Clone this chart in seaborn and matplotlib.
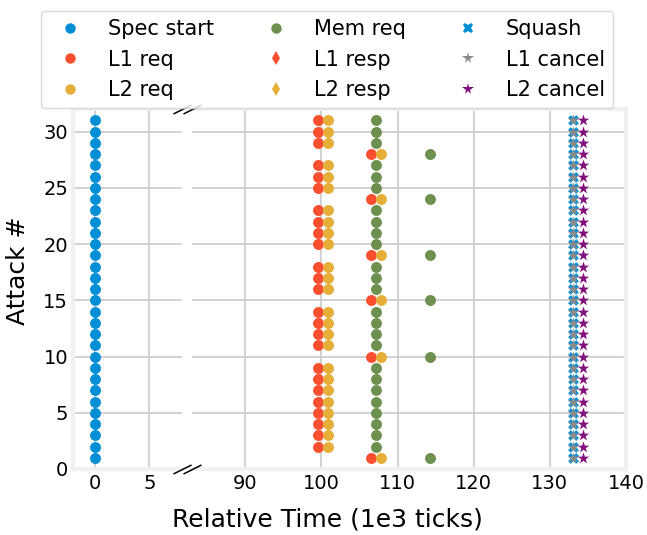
import matplotlib
matplotlib.use("Agg")
import matplotlib.pyplot as plt
from matplotlib.lines import Line2D
import seaborn as sns
import pandas as pd

# ---- data ----
attack = list(range(1, 32))
spec_start = [0.0] * 31
l1_req = [106.5, 99.6, 99.6, 99.6, 99.6, 99.6, 99.6, 99.6, 99.6, 106.5,
          99.6, 99.6, 99.6, 99.6, 106.5, 99.6, 99.6, 99.6, 106.5, 99.6,
          99.6, 99.6, 99.6, 106.5, 99.6, 99.6, 99.6, 106.5, 99.6, 99.6, 99.6]
l2_req = [107.8, 100.9, 100.9, 100.9, 100.9, 100.9, 100.9, 100.9, 100.9, 107.8,
          100.9, 100.9, 100.9, 100.9, 107.8, 100.9, 100.9, 100.9, 107.8, 100.9,
          100.9, 100.9, 100.9, 107.8, 100.9, 100.9, 100.9, 107.8, 100.9, 100.9, 100.9]
mem_req = [114.2, 107.2, 107.2, 107.2, 107.2, 107.2, 107.2, 107.2, 107.2, 114.2,
           107.2, 107.2, 107.2, 107.2, 114.2, 107.2, 107.2, 107.2, 114.2, 107.2,
           107.2, 107.2, 107.2, 114.2, 107.2, 107.2, 107.2, 114.2, 107.2, 107.2, 107.2]
l1_resp = []
l2_resp = []
squash = [133.0] * 31
l1_cancel = [133.0] * 31
l2_cancel = [134.4] * 31

series = [
    ("Spec start", spec_start, "#008fd5", "o", 62),
    ("L1 req", l1_req, "#fc4f30", "o", 62),
    ("L2 req", l2_req, "#e5ae38", "o", 62),
    ("Mem req", mem_req, "#6d904f", "o", 62),
    ("L1 resp", l1_resp, "#fc4f30", "d", 62),
    ("L2 resp", l2_resp, "#e5ae38", "d", 62),
    ("Squash", squash, "#008fd5", "X", 60),
    ("L1 cancel", l1_cancel, "#8b8b8b", "*", 75),
    ("L2 cancel", l2_cancel, "#810f7c", "*", 75),
]

plt.rcParams.update({
    "font.family": ["DejaVu Sans"],
    "font.size": 14,
    "axes.facecolor": "white",
    "figure.facecolor": "white",
    "axes.edgecolor": "#f0f0f0",
    "axes.linewidth": 3,
    "axes.grid": True,
    "grid.color": "#cbcbcb",
    "grid.linewidth": 1.2,
    "xtick.major.size": 0,
    "ytick.major.size": 0,
    "xtick.labelsize": 14,
    "ytick.labelsize": 14,
})

fig = plt.figure(figsize=(6.47, 5.35), dpi=100)
bottom = 66 / 535
height = 360 / 535
ax1 = fig.add_axes([73 / 647, bottom, 109 / 647, height])
ax2 = fig.add_axes([192 / 647, bottom, 434 / 647, height], sharey=ax1)

for name, xs, color, marker, size in series:
    if len(xs) == 0:
        continue
    df = pd.DataFrame({"time": xs, "attack": attack})
    for ax in (ax1, ax2):
        sns.scatterplot(data=df, x="time", y="attack", ax=ax, color=color,
                        marker=marker, s=size, linewidth=0, legend=False,
                        zorder=3)

ax1.set_xlim(-2, 8)
ax2.set_xlim(83, 140)
ax1.set_ylim(0, 32)
ax1.set_xticks([0, 5])
ax2.set_xticks([90, 100, 110, 120, 130, 140])
ax1.set_yticks([0, 5, 10, 15, 20, 25, 30])
for ax in (ax1, ax2):
    ax.set_xlabel("")
    ax.set_ylabel("")
    ax.set_axisbelow(True)
ax2.tick_params(axis="y", labelleft=False)
ax1.spines["right"].set_visible(False)
ax2.spines["left"].set_visible(False)

# break marks
kw = dict(marker=[(-1, -0.5), (1, 0.5)], markersize=13, linestyle="none",
          color="k", mec="k", mew=1.1, clip_on=False, zorder=5)
ax1.plot([1, 1], [0, 1], transform=ax1.transAxes, **kw)
ax2.plot([0, 0], [0, 1], transform=ax2.transAxes, **kw)

fig.text(327 / 647, 1 - 520 / 535, "Relative Time (1e3 ticks)", ha="center",
         va="center", fontsize=18)
fig.text(18 / 647, 1 - 271 / 535, "Attack #", ha="center", va="center",
         rotation=90, fontsize=18)

handles = [Line2D([], [], linestyle="none", marker=m, color=c, mec=c,
                  markersize=7.5 if m != "*" else 8.5, mew=0)
           for _, _, c, m, _ in series]
labels = [n for n, *_ in series]
leg = fig.legend(handles, labels, loc="upper center", ncol=3,
                 bbox_to_anchor=(327 / 647, 0.999), fontsize=15,
                 frameon=True, fancybox=True)
leg.get_frame().set_edgecolor("#d0d0d0")
leg.get_frame().set_linewidth(1)

fig.savefig("out.png", dpi=100)
